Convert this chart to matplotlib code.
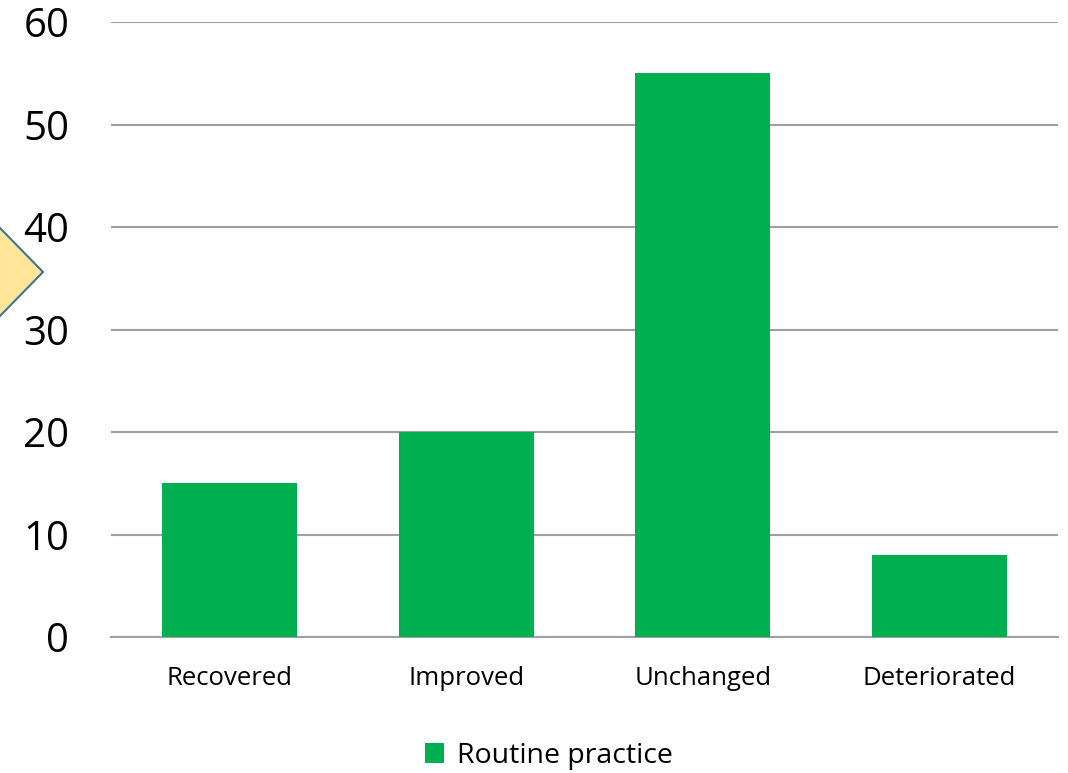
import matplotlib
matplotlib.use("Agg")
import matplotlib.pyplot as plt
from matplotlib.patches import Polygon

categories = ["Recovered", "Improved", "Unchanged", "Deteriorated"]
routine_practice = [15, 20, 55, 8]
yticks = [0, 10, 20, 30, 40, 50, 60]

plt.rcParams['font.family'] = ['Open Sans', 'DejaVu Sans']

fig = plt.figure(figsize=(10.68, 7.73), dpi=100)
ax = fig.add_axes([111/1068, 1 - 637/773, (1058-111)/1068, (637-22)/773])

x = range(len(categories))
ax.bar(x, routine_practice, width=0.57, color="#00B050", label="Routine practice", zorder=3)

ax.set_xlim(-0.5, len(categories) - 0.5)
ax.set_ylim(0, 60)
ax.set_yticks(yticks)
ax.set_yticklabels([str(t) for t in yticks], fontsize=29)
ax.set_xticks(list(x))
ax.set_xticklabels(categories, fontsize=18.5)
ax.tick_params(axis='y', length=0, pad=30)
ax.tick_params(axis='x', length=0, pad=21)
ax.grid(axis='y', color="#A0A0A0", linewidth=1.5, zorder=0)
for s in ["top", "right", "left"]:
    ax.spines[s].set_visible(False)
ax.spines["bottom"].set_color("#A0A0A0")
ax.spines["bottom"].set_linewidth(1.5)

# decorative diamond shape cut at left edge
W, H = 1068, 773
pts = [(-60, 272), (0, 228), (43, 272), (0, 316), (-60, 272)]
poly = Polygon([(px / W, 1 - py / H) for px, py in pts], closed=True,
               transform=fig.transFigure, facecolor="#FFE699", edgecolor="#41719C",
               linewidth=1.5, clip_on=False)
fig.patches.append(poly)

fig.legend(loc="center", bbox_to_anchor=(549/1068, 1 - 756/773), frameon=False,
           fontsize=20.5, handlelength=0.65, handleheight=0.65, handletextpad=0.45)

fig.savefig("out.png", dpi=100)
